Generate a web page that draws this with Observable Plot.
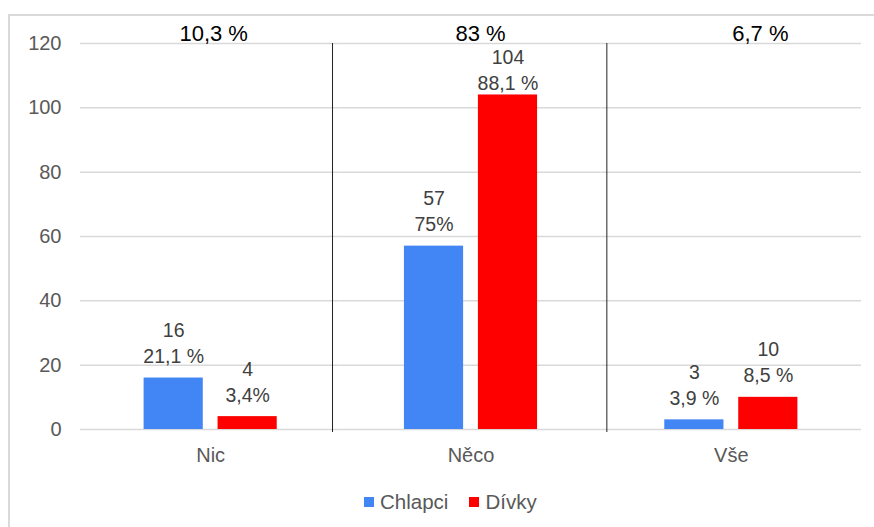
<!DOCTYPE html>
<html><head><meta charset="utf-8">
<script src="https://cdn.jsdelivr.net/npm/d3@7"></script>
<script src="https://cdn.jsdelivr.net/npm/@observablehq/plot@0.6"></script>
<style>
html,body{margin:0;padding:0;background:#fff;}
body{width:874px;height:527px;position:relative;overflow:hidden;font-family:"Liberation Sans",Arial,sans-serif;}
#chart{position:absolute;left:0;top:0;}
#legend{position:absolute;left:364px;top:490px;}
#border{position:absolute;left:8px;top:14px;width:900px;height:600px;border-left:2px solid #dadada;border-top:2px solid #dadada;pointer-events:none;z-index:2;}
#legend > div{font-size:20.5px !important;font-family:"Liberation Sans",Arial,sans-serif !important;color:#595959 !important;min-height:0 !important;margin:0 !important;}
#legend > div > *{margin-right:21px !important;}
#legend svg{margin-right:6px !important;}
</style></head><body>
<div id="border"></div><div id="chart"></div><div id="legend"></div>
<script>
const categories = ["Nic", "Něco", "Vše"];
const genders = ["Chlapci", "Dívky"];
const chlapci = [16, 57, 3];
const divky = [4, 104, 10];
const chlapciPct = ["21,1 %", "75%", "3,9 %"];
const divkyPct = ["3,4%", "88,1 %", "8,5 %"];
const totalPct = ["10,3 %", "83 %", "6,7 %"];
const yTicks = [0, 20, 40, 60, 80, 100, 120];
const colors = ["#4285F4", "#FF0000"];

const rows = categories.flatMap((c, i) => [
  {cat: c, gender: genders[0], value: chlapci[i], pct: chlapciPct[i]},
  {cat: c, gender: genders[1], value: divky[i], pct: divkyPct[i]}
]);
const tops = categories.map((c, i) => ({cat: c, label: totalPct[i]}));
const font = "Liberation Sans, Arial, sans-serif";

const topStyle = {fx: "cat", text: "label", frameAnchor: "top", lineAnchor: "bottom", dy: -3, fontSize: 22, fill: "#000"};
const sepStyle = {fx: d => d, x: () => genders[0], stroke: "#222", strokeWidth: 1, insetBottom: -3};
const labelStyle = {fx: "cat", x: "gender", y: "value", text: d => `${d.value}\n${d.pct}`,
  lineAnchor: "bottom", lineHeight: 1.33, fontSize: 19.5, fill: "#404040"};
const maxVal = d3.max(rows, d => d.value);

const plot = Plot.plot({
  width: 874, height: 480,
  marginLeft: 80, marginRight: 13, marginTop: 43, marginBottom: 51,
  style: {fontFamily: font, fontSize: "20px", background: "transparent"},
  fx: {domain: categories, padding: 0, round: false},
  x: {domain: genders, paddingInner: 0.2, paddingOuter: 0.86, round: false, axis: null},
  y: {domain: [0, 120]},
  color: {domain: genders, range: colors},
  marks: [
    Plot.gridY(yTicks, {stroke: "#d9d9d9", strokeOpacity: 1, strokeWidth: 1.5}),
    Plot.axisY(yTicks, {tickSize: 0, tickPadding: 19, fontSize: 20, color: "#595959", label: null}),
    Plot.axisFx({anchor: "bottom", tickSize: 0, tickPadding: 18, fontSize: 20, color: "#595959", label: null}),
    Plot.barY(rows, {fx: "cat", x: "gender", y: "value", fill: "gender"}),
    Plot.text(rows.filter(d => d.value < maxVal), {...labelStyle, dy: -15}),
    Plot.text(rows.filter(d => d.value === maxVal), {...labelStyle, dy: -5}),
    Plot.ruleX([categories[1]], {...sepStyle, dx: -101.5}),
    Plot.ruleX([categories[2]], {...sepStyle, dx: -87.5}),
    Plot.text([tops[0]], {...topStyle, dx: 3}),
    Plot.text([tops[1]], {...topStyle, dx: 9.5}),
    Plot.text([tops[2]], {...topStyle, dx: 29})
  ]
});
document.getElementById("chart").appendChild(plot);

const legend = Plot.legend({
  color: {domain: genders, range: colors},
  legend: "swatches", swatchSize: 10
});
document.getElementById("legend").appendChild(legend);
</script>
</body></html>
